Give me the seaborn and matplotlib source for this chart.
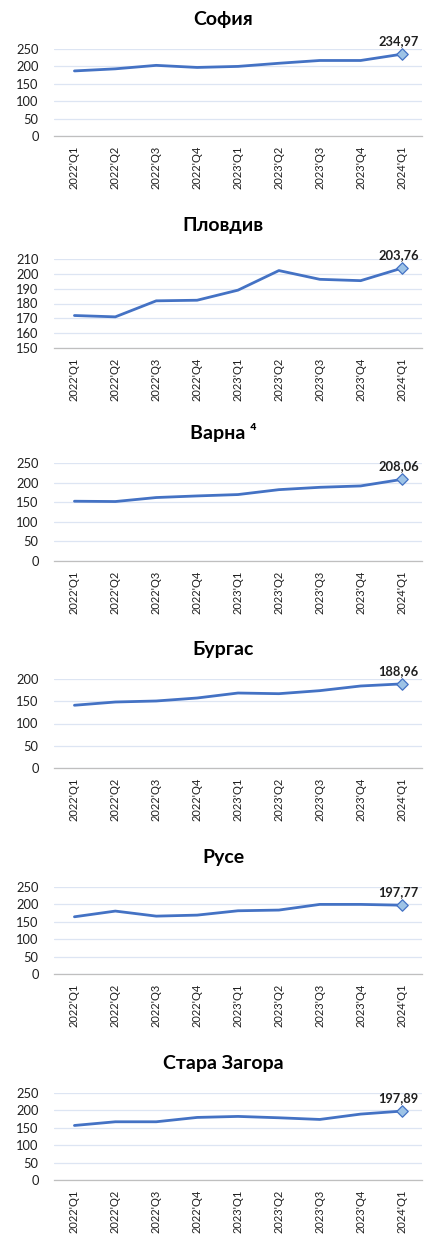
import numpy as np
import pandas as pd
import matplotlib
matplotlib.use('Agg')
import matplotlib.pyplot as plt
import seaborn as sns

# quarters on the x axis
quarters = ["2022'Q1", "2022'Q2", "2022'Q3", "2022'Q4",
            "2023'Q1", "2023'Q2", "2023'Q3", "2023'Q4", "2024'Q1"]

# values (last one is labelled)
sofia = [187, 193, 203, 197, 200, 209, 217, 217, 234.97]
plovdiv = [171.9, 171.0, 181.8, 182.2, 189.0, 202.2, 196.3, 195.4, 203.76]
varna = [152.5, 151.7, 161.9, 166.0, 169.5, 182.0, 188.0, 191.5, 208.06]
burgas = [141.0, 148.3, 150.6, 157.3, 168.5, 167.0, 173.8, 184.3, 188.96]
ruse = [164.4, 180.8, 166.3, 169.2, 181.7, 183.7, 200.0, 200.0, 197.77]
stara_zagora = [156.7, 167.3, 167.3, 179.8, 182.7, 178.8, 174.0, 189.4, 197.89]

titles = ['София', 'Пловдив', 'Варна ⁴', 'Бургас', 'Русе', 'Стара Загора']
series = [sofia, plovdiv, varna, burgas, ruse, stara_zagora]
y_ranges = [(0, 250, 50), (150, 210, 10), (0, 250, 50),
            (0, 200, 50), (0, 250, 50), (0, 250, 50)]

# pixel layout of each plot area: (top, bottom, title centre)
W, H = 425, 1236
boxes = [(49, 136, 19), (259, 348, 225), (463, 561, 433),
         (679, 768, 650), (887, 974, 858), (1093, 1180, 1063)]

sns.set_style('white')
plt.rcParams['font.family'] = ['Lato', 'DejaVu Sans']

line_color = '#4472C4'
grid_color = '#DDE5F3'
text_color = '#1F1F1F'

fig = plt.figure(figsize=(W / 100, H / 100), dpi=100)

for title, vals, (lo, hi, step), (top, bot, ty) in zip(titles, series, y_ranges, boxes):
    left, right = 54, 422
    ax = fig.add_axes([left / W, 1 - bot / H, (right - left) / W, (bot - top) / H])
    df = pd.DataFrame({'pos': np.arange(len(quarters)), 'value': vals})

    sns.lineplot(data=df, x='pos', y='value', ax=ax, color=line_color,
                 linewidth=2.0, zorder=3)
    sns.scatterplot(data=df.tail(1), x='pos', y='value', ax=ax, marker='D',
                    s=34, color='#9DC3E6', edgecolor=line_color, linewidth=0.9,
                    zorder=4, clip_on=False)

    last = vals[-1]
    ax.annotate(f'{last:.2f}'.replace('.', ','), (len(vals) - 1, last),
                xytext=(-3, 13), textcoords='offset pixels', ha='center',
                va='center', fontsize=9.3, fontweight='bold', color=text_color,
                annotation_clip=False)

    ax.set_xlim(-0.5, len(quarters) - 0.5)
    ax.set_ylim(lo, hi)
    ax.set_yticks(np.arange(lo, hi + step / 2, step))
    ax.grid(axis='y', color=grid_color, linewidth=0.9)
    ax.set_axisbelow(True)

    ax.set_xticks(np.arange(len(quarters)))
    ax.set_xticklabels(quarters, rotation=90, fontsize=8, color=text_color)
    ax.set_xticks(np.arange(-0.5, len(quarters)), minor=True)
    ax.tick_params(axis='x', which='major', length=0, pad=7)
    ax.tick_params(axis='x', which='minor', length=4, width=0.9, color='#BFBFBF')
    ax.tick_params(axis='y', length=0, pad=11, labelsize=9.3, labelcolor=text_color)

    for side in ['top', 'right', 'left']:
        ax.spines[side].set_visible(False)
    ax.spines['bottom'].set_color('#BFBFBF')
    ax.spines['bottom'].set_linewidth(0.9)

    ax.set_xlabel('')
    ax.set_ylabel('')
    fig.text(223 / W, 1 - ty / H, title, ha='center', va='center',
             fontsize=14, fontweight='bold', color='black')

fig.savefig('out.png', dpi=100)
